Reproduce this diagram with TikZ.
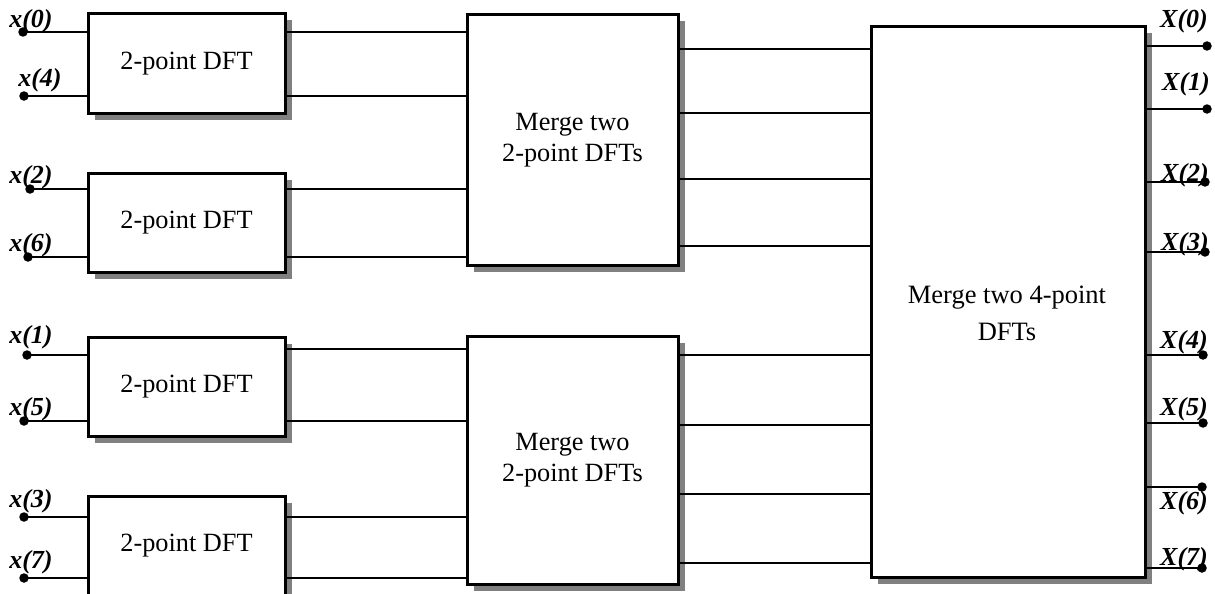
\documentclass[tikz,border=0pt]{standalone}
\usepackage{fontspec}
\setmainfont{Liberation Serif}
\begin{document}
\begin{tikzpicture}[x=1pt,y=-1pt,
  blk/.style={draw, line width=3pt, fill=white, inner sep=0pt,
    font=\fontsize{26.3}{30.5}\selectfont, align=center,
    preaction={fill=black!50, transform canvas={xshift=6.5pt,yshift=-6.5pt}}},
  wire/.style={line width=2.6pt},
  dot/.style={circle, fill=black, inner sep=0pt, minimum size=9.5pt},
  lbl/.style={inner sep=0pt, font=\fontsize{26}{30}\selectfont\bfseries\itshape}
]
\useasboundingbox (0,0) rectangle (1215,594);
\fill[white] (0,0) rectangle (1215,594);

% boxes
\node[blk, minimum width=197pt, minimum height=99pt] (d1) at (186.5,63.5) {2-point DFT};
\node[blk, minimum width=197pt, minimum height=99pt] (d2) at (186.5,222.5) {2-point DFT};
\node[blk, minimum width=197pt, minimum height=99pt] (d3) at (186.5,386.5) {2-point DFT};
\node[blk, minimum width=197pt, minimum height=99pt] (d4) at (186.5,545.5) {2-point DFT};
\node[blk, minimum width=211pt, minimum height=250pt] (m1) at (572.5,140) {Merge two\\2-point DFTs};
\node[blk, minimum width=211pt, minimum height=248pt] (m2) at (572.5,460) {Merge two\\2-point DFTs};
\node[blk, minimum width=274pt, minimum height=550pt] (big) at (1008,302) {};
\node[inner sep=0pt, align=center, font=\fontsize{26.5}{37}\selectfont] (bigtxt) at (1007,313) {Merge two 4-point\\DFTs};

% input dots and labels
\node[dot] (i0) at (23,32) {};
\node[dot] (i4) at (24,96) {};
\node[dot] (i2) at (30,189) {};
\node[dot] (i6) at (28,257) {};
\node[dot] (i1) at (27,355) {};
\node[dot] (i5) at (24,421) {};
\node[dot] (i3) at (24,517) {};
\node[dot] (i7) at (24,578) {};
\node[lbl] (li0) at (31,21) {x(0)};
\node[lbl] (li4) at (40,80) {x(4)};
\node[lbl] (li2) at (31,177) {x(2)};
\node[lbl] (li6) at (31,245) {x(6)};
\node[lbl] (li1) at (31,337) {x(1)};
\node[lbl] (li5) at (31,409) {x(5)};
\node[lbl] (li3) at (31,501) {x(3)};
\node[lbl] (li7) at (31,562) {x(7)};

\foreach \i/\b in {i0/d1,i4/d1,i2/d2,i6/d2,i1/d3,i5/d3,i3/d4,i7/d4}
  \draw[wire] (\i.center) -- (\i.center -| \b.west);

% 2-point -> merge
\draw[wire] (d1.east |- 0,32) -- (m1.west |- 0,32);
\draw[wire] (d1.east |- 0,96) -- (m1.west |- 0,96);
\draw[wire] (d2.east |- 0,189) -- (m1.west |- 0,189);
\draw[wire] (d2.east |- 0,257) -- (m1.west |- 0,257);
\draw[wire] (d3.east |- 0,349) -- (m2.west |- 0,349);
\draw[wire] (d3.east |- 0,421) -- (m2.west |- 0,421);
\draw[wire] (d4.east |- 0,517) -- (m2.west |- 0,517);
\draw[wire] (d4.east |- 0,578) -- (m2.west |- 0,578);

% merge -> big
\foreach \y in {49,113,179,246}
  \draw[wire] (m1.east |- 0,\y) -- (big.west |- 0,\y);
\foreach \y in {355,425,494,563}
  \draw[wire] (m2.east |- 0,\y) -- (big.west |- 0,\y);

% outputs
\node[dot] (o0) at (1207,46) {};
\node[dot] (o1) at (1207,109) {};
\node[dot] (o2) at (1205,182) {};
\node[dot] (o3) at (1205,252) {};
\node[dot] (o4) at (1203,355) {};
\node[dot] (o5) at (1203,423) {};
\node[dot] (o6) at (1202,487) {};
\node[dot] (o7) at (1202,568) {};
\foreach \o in {o0,o1,o2,o3,o4,o5,o6,o7}
  \draw[wire] (big.east |- \o.center) -- (\o.center);
\node[lbl] (lo0) at (1184,21) {X(0)};
\node[lbl] (lo1) at (1186,84) {X(1)};
\node[lbl] (lo2) at (1185,175) {X(2)};
\node[lbl] (lo3) at (1185,244) {X(3)};
\node[lbl] (lo4) at (1184,342) {X(4)};
\node[lbl] (lo5) at (1184,409) {X(5)};
\node[lbl] (lo6) at (1184,503) {X(6)};
\node[lbl] (lo7) at (1184,559) {X(7)};
\end{tikzpicture}
\end{document}
